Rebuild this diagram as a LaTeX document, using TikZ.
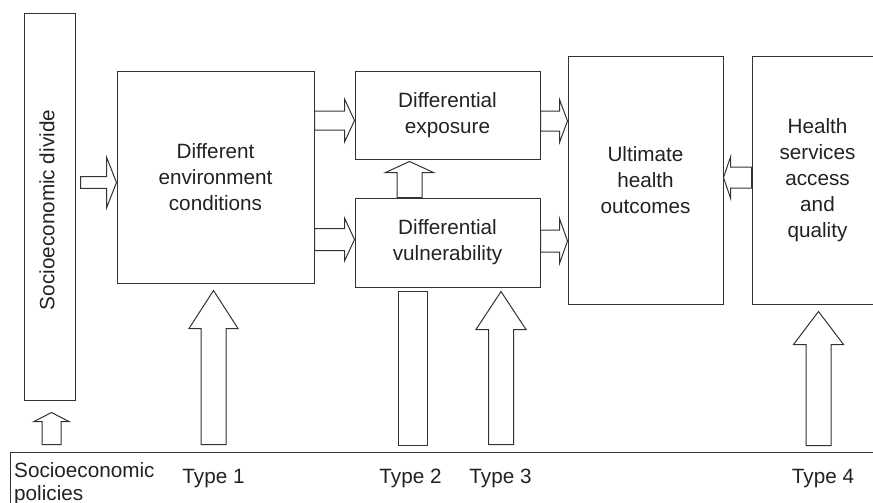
\documentclass[tikz,border=0pt]{standalone}
\usepackage{fontspec}
\setmainfont{Liberation Sans}
\usetikzlibrary{calc}
\definecolor{ln}{HTML}{333333}
\definecolor{tx}{HTML}{222222}
\tikzset{
  box/.style={draw=ln, line width=1pt, inner sep=0pt, align=center, text=tx,
              font=\fontsize{20.7}{26}\selectfont},
  blk/.style={draw=ln, line width=1pt, fill=white, line join=miter},
  lbl/.style={text=tx, font=\fontsize{20.7}{23.5}\selectfont, inner sep=0pt}
}
% horizontal block arrow: tail, tip, shaft half width, head half width, head length (signed)
\newcommand{\harrow}[5]{\draw[blk] let \p1=(#1),\p2=(#2) in
  ({\x1},{\y2+#3}) -- ({\x2-(#5)},{\y2+#3}) -- ({\x2-(#5)},{\y2+#4}) -- ({\x2},{\y2})
  -- ({\x2-(#5)},{\y2-(#4)}) -- ({\x2-(#5)},{\y2-(#3)}) -- ({\x1},{\y2-(#3)}) -- cycle;}
% vertical (upward) block arrow
\newcommand{\varrow}[5]{\draw[blk] let \p1=(#1),\p2=(#2) in
  ({\x2+#3},{\y1}) -- ({\x2+#3},{\y2-(#5)}) -- ({\x2+#4},{\y2-(#5)}) -- ({\x2},{\y2})
  -- ({\x2-(#4)},{\y2-(#5)}) -- ({\x2-(#3)},{\y2-(#5)}) -- ({\x2-(#3)},{\y1}) -- cycle;}
\begin{document}
\begin{tikzpicture}[x=1pt,y=-1pt]
\useasboundingbox (0,0) rectangle (873,503);
\clip (0,0) rectangle (873,503);

% boxes
\node[box, minimum width=51pt, minimum height=386pt] (div) at (49.5,207) {};
\node[lbl, rotate=90] (divt) at (47,210) {Socioeconomic divide};
\node[box, minimum width=197pt, minimum height=211pt] (env) at (215.5,177.5)
  {Different\\environment\\conditions};
\node[box, minimum width=185pt, minimum height=87pt] (expo) at (447.5,115.5)
  {Differential\\exposure};
\node[box, minimum width=185pt, minimum height=89pt] (vuln) at (447.5,242.5)
  {Differential\\vulnerability};
\node[box, minimum width=155pt, minimum height=247pt] (ult) at (645.5,180.5)
  {Ultimate\\health\\outcomes};
\node[box, minimum width=131pt, minimum height=247pt] (hs) at (817.5,180.5)
  {Health\\services\\access\\and\\quality};
\node[box, minimum width=880pt, minimum height=68pt] (pol) at (450,486) {};
\node[lbl, align=left, anchor=north west] (polt) at (14,462) {Socioeconomic\\policies};

% type labels
\node[lbl, anchor=base] (t1l) at (213.5,483) {Type 1};
\node[lbl, anchor=base] (t2l) at (410.5,483) {Type 2};
\node[lbl, anchor=base] (t3l) at (500.5,483) {Type 3};
\node[lbl, anchor=base] (t4l) at (823,483) {Type 4};

% block arrows
\varrow{$(pol.north -| 51.5,0)+(0,-7)$}{$(div.south -| 51.5,0)+(0,12)$}{9.5pt}{17.5pt}{9pt}
\harrow{$(div.east |- 0,182.5)+(5,0)$}{env.west |- 0,182.5}{5.8pt}{25.5pt}{10pt}
\harrow{env.east |- 0,120.5}{expo.west |- 0,120.5}{9.5pt}{21.5pt}{10pt}
\harrow{env.east |- 0,239.5}{vuln.west |- 0,239.5}{11pt}{21.5pt}{10pt}
\varrow{vuln.north -| 409.5,0}{$(expo.south -| 409.5,0)+(0,2)$}{12.5pt}{24pt}{11pt}
\harrow{expo.east |- 0,121}{ult.west |- 0,121}{10pt}{21.5pt}{8pt}
\harrow{vuln.east |- 0,241}{ult.west |- 0,241}{11pt}{22.5pt}{8pt}
\harrow{hs.west |- 0,177.5}{ult.east |- 0,177.5}{10.5pt}{20.5pt}{-7pt}
\varrow{$(pol.north -| 213.5,0)+(0,-7)$}{$(env.south -| 213.5,0)+(0,7)$}{12.5pt}{24.5pt}{38pt}
\node[draw=ln, line width=1pt, fill=white, inner sep=0pt,
      minimum width=29pt, minimum height=154pt] (t2) at (412.5,368) {};
\varrow{$(pol.north -| 501,0)+(0,-7)$}{$(vuln.south -| 501,0)+(0,4)$}{12.5pt}{25pt}{38pt}
\varrow{$(pol.north -| 818.5,0)+(0,-6)$}{$(hs.south -| 818.5,0)+(0,7)$}{12.5pt}{25pt}{33pt}
\end{tikzpicture}
\end{document}
